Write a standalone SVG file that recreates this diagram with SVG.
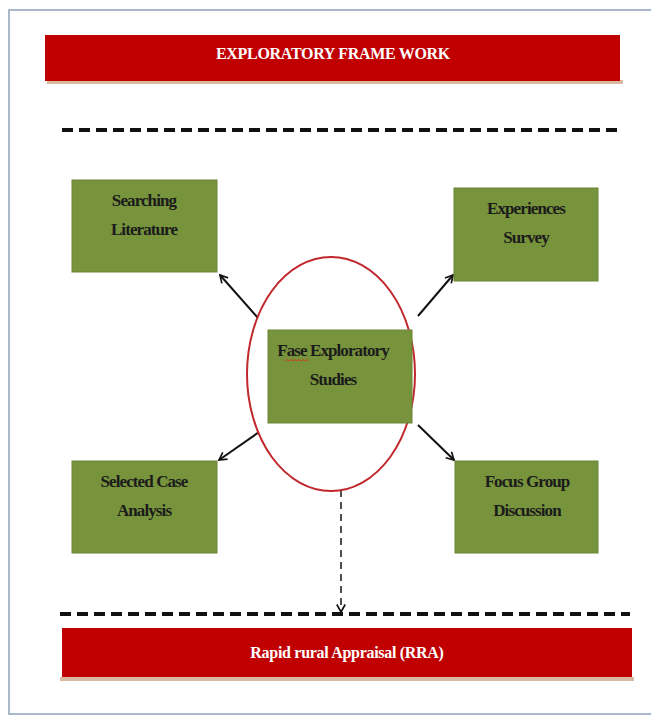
<svg xmlns="http://www.w3.org/2000/svg" width="651" height="717" viewBox="0 0 651 717">
<defs>
<style>
.frame{fill:#ffffff;stroke:#8fa3b8;stroke-width:1.5}
.bar{fill:#c00000}
.shadow{fill:#d9b9a0}
.box{fill:#77933c;stroke:#6a8535;stroke-width:1}
.bt{font-family:"Liberation Serif",serif;font-weight:bold;font-size:17px;fill:#1b1b1b;text-anchor:middle;letter-spacing:-0.9px}
.wt{font-family:"Liberation Serif",serif;font-weight:bold;font-size:16px;fill:#ffffff;text-anchor:middle;letter-spacing:-0.3px}
.sep{stroke:#111;stroke-width:4;stroke-dasharray:11 6;fill:none}
.con{stroke:#111;stroke-width:2;fill:none}
.dcon{stroke:#222;stroke-width:1.6;stroke-dasharray:7 5;fill:none}
</style>
<marker id="ah" viewBox="0 0 12 12" refX="10" refY="6" markerWidth="10" markerHeight="10" markerUnits="userSpaceOnUse" orient="auto">
<path d="M1,1 L10,6 L1,11" fill="none" stroke="#111" stroke-width="2"/>
</marker>
</defs>
<rect x="0" y="0" width="651" height="717" fill="#ffffff"/>
<rect class="frame" x="9" y="10" width="650" height="704"/>

<g id="title">
<rect class="shadow" x="47" y="80" width="576" height="4"/>
<rect class="bar" x="45" y="35" width="575" height="46"/>
<text class="wt" x="333" y="59">EXPLORATORY FRAME WORK</text>
</g>

<line class="sep" x1="62" y1="130" x2="620" y2="130"/>
<line class="sep" x1="60" y1="614" x2="630" y2="614"/>

<g id="connectors">
<line class="con" x1="258" y1="318" x2="220" y2="275" marker-end="url(#ah)"/>
<line class="con" x1="418" y1="316" x2="453" y2="275" marker-end="url(#ah)"/>
<line class="con" x1="262" y1="430" x2="219" y2="460" marker-end="url(#ah)"/>
<line class="con" x1="418" y1="425" x2="454" y2="460" marker-end="url(#ah)"/>
<line class="dcon" x1="341" y1="490" x2="341" y2="612" marker-end="url(#ah)"/>
</g>

<g id="center">
<ellipse cx="331" cy="374" rx="84" ry="117" fill="#ffffff" stroke="#c0282d" stroke-width="2"/>
<rect class="box" x="268" y="330" width="144" height="93"/>
<text class="bt" x="333" y="356">Fase Exploratory</text>
<text class="bt" x="333" y="385">Studies</text>
<path d="M285,361 l2,-1.5 l2,1.5 l2,-1.5 l2,1.5 l2,-1.5 l2,1.5 l2,-1.5 l2,1.5 l2,-1.5 l2,1.5 l2,-1.5 l2,1.5" fill="none" stroke="#d03a2a" stroke-width="0.9"/>
</g>

<g id="searching">
<rect class="box" x="72" y="180" width="145" height="92"/>
<text class="bt" x="144" y="206">Searching</text>
<text class="bt" x="144" y="235">Literature</text>
</g>

<g id="experiences">
<rect class="box" x="454" y="188" width="144" height="93"/>
<text class="bt" x="526" y="214">Experiences</text>
<text class="bt" x="526" y="243">Survey</text>
</g>

<g id="selected">
<rect class="box" x="72" y="461" width="145" height="92"/>
<text class="bt" x="144" y="487">Selected Case</text>
<text class="bt" x="144" y="516">Analysis</text>
</g>

<g id="focus">
<rect class="box" x="455" y="461" width="143" height="92"/>
<text class="bt" x="527" y="487">Focus Group</text>
<text class="bt" x="527" y="516">Discussion</text>
</g>

<g id="rra">
<rect class="shadow" x="60" y="677" width="574" height="4"/>
<rect class="bar" x="62" y="628" width="570" height="49"/>
<text class="wt" x="347" y="658">Rapid rural Appraisal (RRA)</text>
</g>
</svg>
